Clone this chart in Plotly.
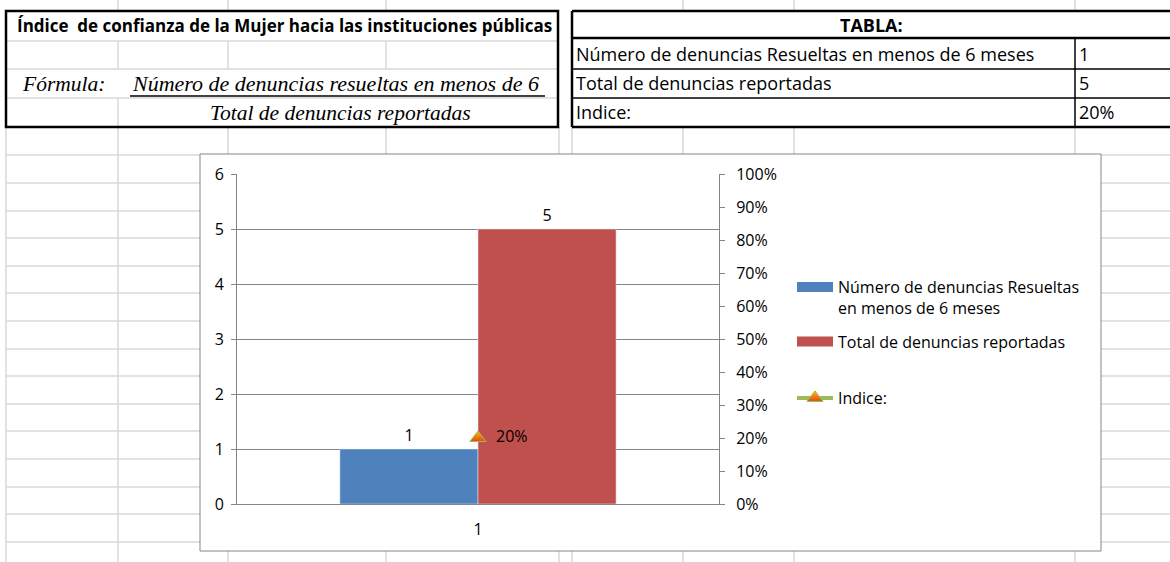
import plotly.graph_objects as go

# ---------------- data ----------------
categories = ["1"]
resueltas = [1]
total_reportadas = [5]
indice = [0.20]

name_resueltas = "Número de denuncias Resueltas<br>en menos de 6 meses"
name_total = "Total de denuncias reportadas"
name_indice = "Indice:"

table_labels = ["Número de denuncias Resueltas en menos de 6 meses",
                "Total de denuncias reportadas",
                "Indice:"]
table_values = [str(resueltas[0]), str(total_reportadas[0]), f"{indice[0]:.0%}"]

title_text = "Índice\u00a0 de confianza de la Mujer hacia las instituciones públicas"
formula_label = "Fórmula:"
formula_num = "Número de denuncias resueltas en menos de 6"
formula_den = "Total de denuncias reportadas"
tabla_title = "TABLA:"

# ---------------- layout helpers ----------------
W, H = 1170, 562


def px(x):
    return x / W


def py(y):
    return 1 - y / H


BLUE = "#4f81bd"
RED = "#c0504d"
GREEN = "#9bbb59"
AXIS = "#868686"
GRID_XL = "#d9d9d9"
SANS = "Open Sans"
SERIF = "Liberation Serif"

shapes = []


def line(x0, y0, x1, y1, color=GRID_XL, width=1.5):
    shapes.append(dict(type="line", xref="paper", yref="paper",
                       x0=px(x0), y0=py(y0), x1=px(x1), y1=py(y1),
                       line=dict(color=color, width=width), layer="below"))


# spreadsheet grid below the tables
row_lines = [155, 183, 211, 238, 266, 293, 321, 349, 376, 404, 431, 459, 487, 514, 542]
col_lines = [6, 118, 228, 386, 559, 572, 683, 794, 1075]
for yv in row_lines:
    line(6, yv, W, yv)
for xv in col_lines:
    line(xv, 127, xv, H)
# small column stubs above the tables
for xv in [118, 228, 386, 683, 794, 1075]:
    line(xv, 0, xv, 11)

# left table inner gray lines
for yv in [41, 69, 98]:
    line(6, yv, 558, yv)
for xv in [118, 228, 386]:
    line(xv, 41, xv, 69)
line(118, 98, 118, 127)

# right table lines
line(572, 38, W, 38, "#000", 2.5)
line(572, 69, W, 69, "#000", 1.5)
line(572, 98, W, 98, "#000", 1.5)
line(1075, 38, 1075, 127, "#000", 1.5)
line(572, 11, W, 11, "#000", 2.5)
line(572, 127, W, 127, "#000", 2.5)
line(572, 11, 572, 127, "#000", 2.5)

# left table outer border
shapes.append(dict(type="rect", xref="paper", yref="paper",
                   x0=px(6), y0=py(127), x1=px(558), y1=py(11),
                   line=dict(color="#000", width=2.5), layer="below"))
# formula underline
line(130, 96, 545, 96, "#000", 1.5)

# chart box
shapes.append(dict(type="rect", xref="paper", yref="paper",
                   x0=px(200), y0=py(551), x1=px(1101), y1=py(154),
                   fillcolor="white", line=dict(color=AXIS, width=1), layer="below"))

annotations = []


def ann(x, y, text, size, family=SANS, xanchor="left", italic=False, bold=False):
    t = text
    if bold:
        t = f"<b>{t}</b>"
    if italic:
        t = f"<i>{t}</i>"
    annotations.append(dict(x=px(x), y=py(y), xref="paper", yref="paper",
                            text=t, showarrow=False, xanchor=xanchor, yanchor="middle",
                            font=dict(family=family, size=size, color="#000")))


ann(284, 26, title_text, 17, bold=True, xanchor="center")
ann(20, 84, formula_label, 21.5, family=SERIF, italic=True)
ann(130, 84, formula_num, 22, family=SERIF, italic=True)
ann(340, 113, formula_den, 21.5, family=SERIF, italic=True, xanchor="center")

ann(871, 25, tabla_title, 18, bold=True, xanchor="center")
for i, (lab, val) in enumerate(zip(table_labels, table_values)):
    yc = [54, 83, 112][i]
    ann(573.5, yc, lab, 18)
    ann(1076.5, yc, val, 18)

# ---------------- traces ----------------
fig = go.Figure()

fig.add_trace(go.Bar(
    x=categories, y=resueltas, name=name_resueltas, marker_color=BLUE,
    text=[str(v) for v in resueltas], textposition="outside",
    textfont=dict(family=SANS, size=16, color="#000"), cliponaxis=False,
    showlegend=False, legendgroup="g1"))
fig.add_trace(go.Bar(
    x=categories, y=total_reportadas, name=name_total, marker_color=RED,
    text=[str(v) for v in total_reportadas], textposition="outside",
    textfont=dict(family=SANS, size=16, color="#000"), cliponaxis=False,
    showlegend=False, legendgroup="g2"))

# legend keys drawn as wide bars like the original
fig.add_trace(go.Scatter(x=[None], y=[None], mode="lines", name=name_resueltas,
                         line=dict(color=BLUE, width=10), legendgroup="g1"))
fig.add_trace(go.Scatter(x=[None], y=[None], mode="lines", name=name_total,
                         line=dict(color=RED, width=10), legendgroup="g2"))

fig.add_trace(go.Scatter(
    x=categories, y=indice, yaxis="y2", name=name_indice, legendgroup="g3",
    legend="legend2",
    mode="lines+markers+text",
    line=dict(color=GREEN, width=4),
    marker=dict(symbol="triangle-up", size=14, color="#f5c400",
                gradient=dict(type="vertical", color="#e8431e"),
                line=dict(color=GREEN, width=1)),
    text=["\u00a0\u00a0" + f"{v:.0%}" for v in indice], textposition="middle right",
    textfont=dict(family=SANS, size=16, color="#000"), cliponaxis=False))

legend_common = dict(xanchor="left", font=dict(family=SANS, size=16, color="#000"),
                     bgcolor="rgba(0,0,0,0)", valign="top", tracegroupgap=10,
                     itemwidth=36, itemclick=False, itemdoubleclick=False)

fig.update_layout(
    width=W, height=H,
    margin=dict(l=0, r=0, t=0, b=0),
    paper_bgcolor="white", plot_bgcolor="rgba(0,0,0,0)",
    barmode="group", bargap=0.427, bargroupgap=0,
    font=dict(family=SANS, size=16, color="#000"),
    shapes=shapes, annotations=annotations,
    showlegend=True,
    legend=dict(x=px(792), y=py(270), yanchor="top", **legend_common),
    legend2=dict(x=px(792), y=py(398), yanchor="middle", **legend_common),
    xaxis=dict(domain=[px(237), px(719)], type="category", range=[-0.5, 0.5],
               showline=True, linecolor=AXIS, linewidth=1, ticks="",
               showgrid=False, tickfont=dict(size=16), ticklabelstandoff=11,
               automargin=False, fixedrange=True),
    yaxis=dict(domain=[py(504), py(174)], range=[0, 6], dtick=1,
               showgrid=True, gridcolor=AXIS, gridwidth=1, zeroline=False,
               showline=True, linecolor=AXIS, linewidth=1,
               ticks="outside", ticklen=5, tickcolor=AXIS,
               tickfont=dict(size=16), ticklabelstandoff=4,
               automargin=False, fixedrange=True),
    yaxis2=dict(domain=[py(504), py(174)], range=[0, 1], dtick=0.1, tickformat=".0%",
                overlaying="y", side="right", anchor="x",
                showgrid=False, zeroline=False,
                showline=True, linecolor=AXIS, linewidth=1,
                ticks="outside", ticklen=5, tickcolor=AXIS,
                tickfont=dict(size=16), ticklabelstandoff=8,
                automargin=False, fixedrange=True),
)

fig.write_html("out.html", config={"displayModeBar": False},
               post_script="document.body.style.margin='0';")
